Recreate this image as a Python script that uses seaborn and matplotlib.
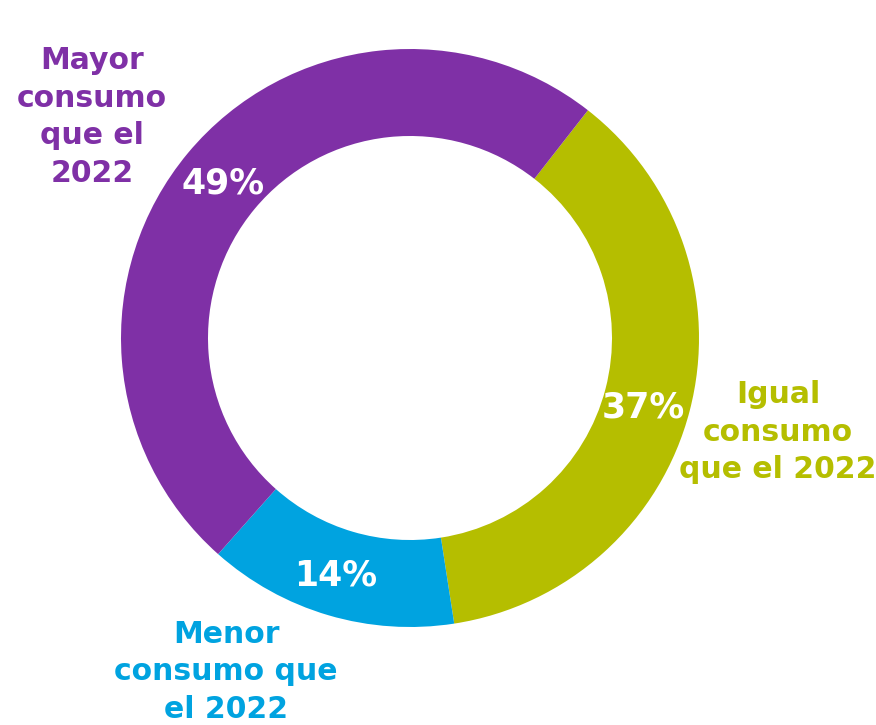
import matplotlib
matplotlib.use('Agg')
import matplotlib.pyplot as plt
import seaborn as sns

# data
categories = ["Igual consumo que el 2022", "Menor consumo que el 2022", "Mayor consumo que el 2022"]
values = [37, 14, 49]
colors = ["#B5BE00", "#00A3E0", "#7F30A6"]

sns.set_theme(style="white")
plt.rcParams['font.family'] = ['DejaVu Sans']

W, H = 876, 725
fig = plt.figure(figsize=(W / 100, H / 100), dpi=100)
ax = fig.add_axes([0, 0, 1, 1])

cx, cy, r_out, r_in = 410, H - 338, 289, 202
ax.pie(values, colors=colors, startangle=52, counterclock=False,
       center=(cx, cy), radius=r_out, frame=True,
       wedgeprops=dict(width=r_out - r_in, linewidth=0))
ax.set_xlim(0, W)
ax.set_ylim(0, H)
ax.axis('off')

# percentage labels (white, on ring)
pct_pos = {"Igual consumo que el 2022": (643, 407),
           "Menor consumo que el 2022": (336, 575),
           "Mayor consumo que el 2022": (223, 183)}
for cat, v in zip(categories, values):
    x, y = pct_pos[cat]
    ax.text(x, H - y, f"{v}%", color="white", fontsize=25, fontweight='bold',
            ha='center', va='center')

# category labels outside ring
labels = [("Mayor\nconsumo\nque el\n2022", (92, 117), colors[2]),
          ("Igual\nconsumo\nque el 2022", (778, 432), colors[0]),
          ("Menor\nconsumo que\nel 2022", (226, 672), colors[1])]
for txt, (x, y), c in labels:
    ax.text(x, H - y, txt, color=c, fontsize=21.5, fontweight='bold',
            ha='center', va='center', linespacing=1.38)

fig.savefig("out.png", dpi=100)
plt.close()
